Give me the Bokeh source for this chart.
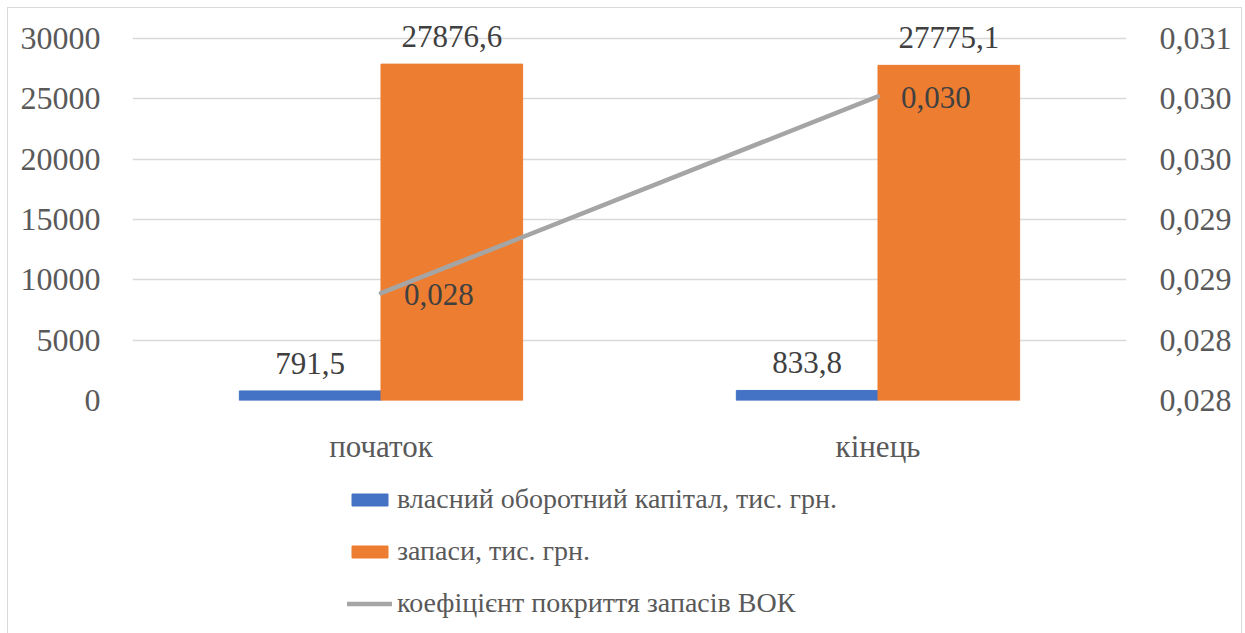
from bokeh.plotting import figure
from bokeh.layouts import column
from bokeh.models import (ColumnDataSource, Range1d, LinearAxis, FixedTicker, LabelSet,
                          Legend, LegendItem, CustomJSTickFormatter)
from bokeh.transform import dodge
from bokeh.embed import file_html
from bokeh.resources import INLINE

categories = ["початок", "кінець"]
vok = [791.5, 833.8]
zapasy = [27876.6, 27775.1]
coef = [0.02839, 0.03002]
left_ticks = [0, 5000, 10000, 15000, 20000, 25000, 30000]
right_ticks = [0.0275, 0.028, 0.0285, 0.029, 0.0295, 0.030, 0.0305]
series_names = ["власний оборотний капітал, тис. грн.", "запаси, тис. грн.",
                "коефіцієнт покриття запасів ВОК"]

def fmt(v, d):
    return f"{v:.{d}f}".replace(".", ",")

src = ColumnDataSource(dict(
    cat=categories, vok=vok, zap=zapasy, coef=coef,
    vok_lbl=[fmt(v, 1) for v in vok],
    zap_lbl=[fmt(v, 1) for v in zapasy],
    coef_lbl=[fmt(v, 3) for v in coef],
))

FONT = "Liberation Serif"
FS = "31px"
TFS = "32px"
LFS = "28px"
AX = "#595959"
LBL = "#404040"
BLUE = "#4472C4"
ORANGE = "#ED7D31"
GREY = "#A5A5A5"
W = 1233

# frame is taller than the axis span so that labels above the bars are not clipped
AXIS_PX = 362.0
FRAME_PX = 388.0
ext = FRAME_PX / AXIS_PX
y_lo, y_hi = left_ticks[0], left_ticks[-1]
r_lo, r_hi = right_ticks[0], right_ticks[-1]

p = figure(x_range=categories, y_range=Range1d(y_lo, y_lo + (y_hi - y_lo) * ext),
           width=W, height=470, output_backend="svg", toolbar_location=None,
           min_border_left=124, min_border_right=115, min_border_top=4, min_border_bottom=78)
p.outline_line_color = None
p.extra_y_ranges = {"right": Range1d(r_lo, r_lo + (r_hi - r_lo) * ext)}

p.yaxis.ticker = FixedTicker(ticks=left_ticks)
p.yaxis.axis_line_color = None
p.yaxis.major_tick_line_color = None
p.yaxis.minor_tick_line_color = None
p.yaxis.major_label_standoff = 26
p.yaxis.major_label_text_font = FONT
p.yaxis.major_label_text_font_size = TFS
p.yaxis.major_label_text_color = AX

p.xaxis.axis_line_color = None
p.xaxis.major_tick_line_color = None
p.xaxis.major_label_standoff = 22
p.xaxis.major_label_text_font = FONT
p.xaxis.major_label_text_font_size = FS
p.xaxis.major_label_text_color = AX

ry = LinearAxis(y_range_name="right", ticker=FixedTicker(ticks=right_ticks),
                formatter=CustomJSTickFormatter(code="""
                    const v = Math.round(tick*1e6)/1e6;
                    return (Math.round(v*1000 + 1e-7)/1000).toFixed(3).replace('.', ',');
                """))
ry.axis_line_color = None
ry.major_tick_line_color = None
ry.minor_tick_line_color = None
ry.major_label_standoff = 27
ry.major_label_text_font = FONT
ry.major_label_text_font_size = TFS
ry.major_label_text_color = AX
p.add_layout(ry, "right")

p.xgrid.grid_line_color = None
p.ygrid.grid_line_color = "#D9D9D9"
p.ygrid.grid_line_width = 1.5

p.vbar(x=dodge("cat", -0.1425, range=p.x_range), top="vok", width=0.285,
       source=src, fill_color=BLUE, line_color=BLUE)
p.vbar(x=dodge("cat", 0.1425, range=p.x_range), top="zap", width=0.285,
       source=src, fill_color=ORANGE, line_color=ORANGE)
p.line(x="cat", y="coef", y_range_name="right", source=src,
       line_color=GREY, line_width=4.5, line_cap="round")

for col, lbl, off in [("vok", "vok_lbl", -0.1425), ("zap", "zap_lbl", 0.1425)]:
    p.add_layout(LabelSet(x=dodge("cat", off, range=p.x_range), y=col, text=lbl, source=src,
                          text_align="center", text_baseline="alphabetic", y_offset=17,
                          text_font=FONT, text_font_size=FS, text_color=LBL))
p.add_layout(LabelSet(x="cat", y="coef", y_range_name="right", text="coef_lbl", source=src,
                      text_align="left", text_baseline="alphabetic", x_offset=23, y_offset=-12,
                      text_font=FONT, text_font_size=FS, text_color=LBL))

# legend strip below the chart (frame aligned with the chart's frame)
pl = figure(width=W, height=155, x_range=Range1d(0, 1), y_range=Range1d(0, 1),
            x_axis_type=None, y_axis_type=None, output_backend="svg", toolbar_location=None,
            min_border_left=124, min_border_right=115, min_border_top=0, min_border_bottom=0)
pl.outline_line_color = None
pl.grid.visible = False
# legend proxies with no drawable data
nan = float("nan")
proxy = ColumnDataSource(dict(x=[nan], y=[nan], b=[nan]))
l1 = pl.vbar(x="x", top="y", bottom="b", width=0.1, source=proxy, fill_color=BLUE, line_color=BLUE)
l2 = pl.vbar(x="x", top="y", bottom="b", width=0.1, source=proxy, fill_color=ORANGE, line_color=ORANGE)
l3 = pl.line(x="x", y="y", source=proxy, line_color=GREY, line_width=4.5, line_cap="round")

legend = Legend(items=[LegendItem(label=series_names[0], renderers=[l1]),
                       LegendItem(label=series_names[1], renderers=[l2]),
                       LegendItem(label=series_names[2], renderers=[l3])],
                location=(215, 12), orientation="vertical",
                glyph_width=45, glyph_height=15, label_standoff=5, label_height=36,
                spacing=16, padding=0, margin=0, border_line_color=None,
                background_fill_alpha=0, label_text_font=FONT, label_text_font_size=LFS,
                label_text_color=AX, label_text_baseline="middle")
pl.add_layout(legend, "center")

layout = column(p, pl, spacing=0)
layout.styles = {"margin-left": "7px", "margin-top": "7px",
                 "border-top": "1px solid #D9D9D9", "border-left": "1px solid #D9D9D9",
                 "border-right": "1px solid #D9D9D9"}

open("out.html", "w").write(file_html(layout, INLINE))
